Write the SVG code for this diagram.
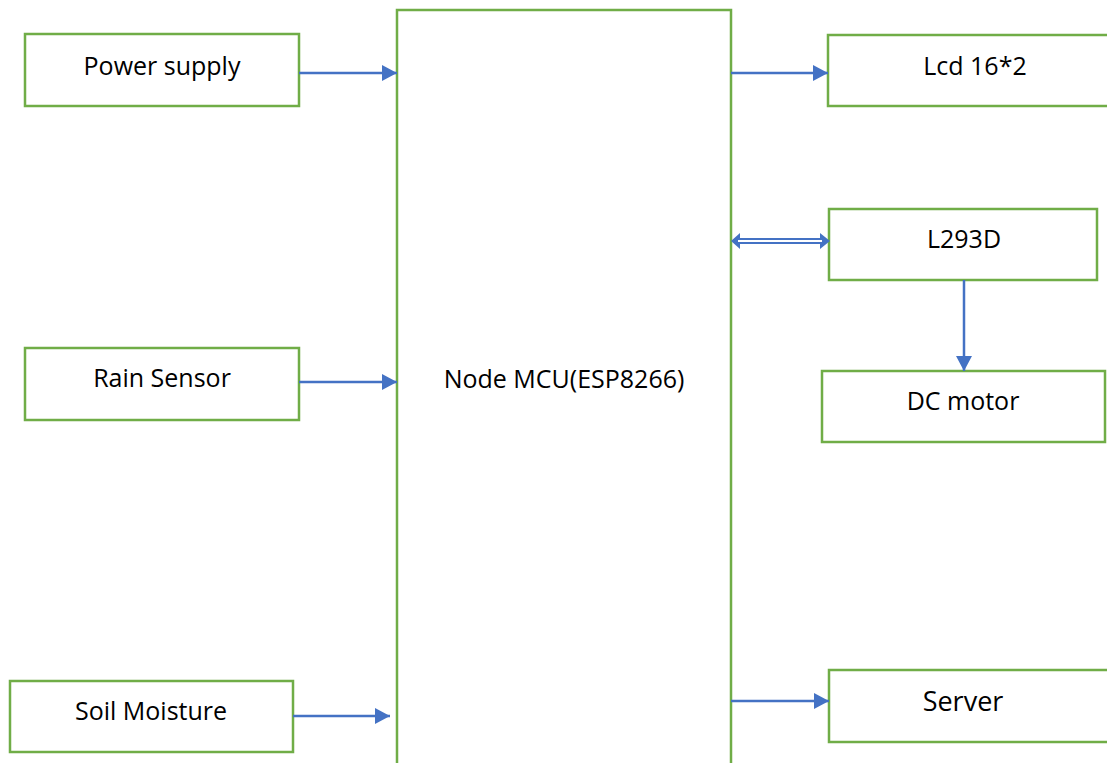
<svg xmlns="http://www.w3.org/2000/svg" width="1107" height="763" viewBox="0 0 1107 763">
<style>
.box{fill:#fff;stroke:#70AD47;stroke-width:2.5}
.lbl{font-family:"Open Sans","Noto Sans",sans-serif;font-size:25px;fill:#000;text-anchor:middle}
.con{stroke:#4472C4;stroke-width:2.5;fill:none}
</style>
<defs>
<marker id="ah" markerUnits="userSpaceOnUse" markerWidth="16" markerHeight="16" refX="15" refY="8" orient="auto">
<path d="M0,0 L15,8 L0,16 Z" fill="#4472C4"/>
</marker>
</defs>
<rect width="1107" height="763" fill="#fff"/>
<g id="mcu"><rect class="box" x="397" y="10" width="334" height="770"/><text class="lbl" x="564" y="388">Node MCU(ESP8266)</text></g>
<g id="power"><rect class="box" x="25" y="34" width="274" height="72"/><text class="lbl" x="162" y="75">Power supply</text></g>
<g id="rain"><rect class="box" x="25" y="348" width="274" height="72"/><text class="lbl" x="162" y="387">Rain Sensor</text></g>
<g id="soil"><rect class="box" x="10" y="681" width="283" height="71"/><text class="lbl" x="151" y="720">Soil Moisture</text></g>
<g id="lcd"><rect class="box" x="828" y="35" width="290" height="71"/><text class="lbl" x="975" y="75">Lcd 16*2</text></g>
<g id="l293d"><rect class="box" x="829" y="209" width="268" height="71"/><text class="lbl" x="964" y="248">L293D</text></g>
<g id="motor"><rect class="box" x="822" y="371" width="283" height="71"/><text class="lbl" x="963" y="410">DC motor</text></g>
<g id="server"><rect class="box" x="829" y="670" width="290" height="72"/><text class="lbl" x="963" y="711" style="font-size:27px">Server</text></g>
<g id="connectors">
<line class="con" x1="299" y1="73" x2="397" y2="73" marker-end="url(#ah)"/>
<line class="con" x1="299" y1="382" x2="397" y2="382" marker-end="url(#ah)"/>
<line class="con" x1="293" y1="716" x2="390" y2="716" marker-end="url(#ah)"/>
<line class="con" x1="731" y1="73" x2="828" y2="73" marker-end="url(#ah)"/>
<line class="con" x1="731" y1="701" x2="829" y2="701" marker-end="url(#ah)"/>
<line class="con" x1="964" y1="280" x2="964" y2="371" marker-end="url(#ah)"/>
<g id="bidir">
<path d="M731,241 L740,233 L740,238 L820,238 L820,233 L830,241 L820,249 L820,244 L740,244 L740,249 Z" fill="#4472C4"/>
<line x1="738" y1="241" x2="822" y2="241" stroke="#fff" stroke-width="2"/>
</g>
</g>
</svg>
